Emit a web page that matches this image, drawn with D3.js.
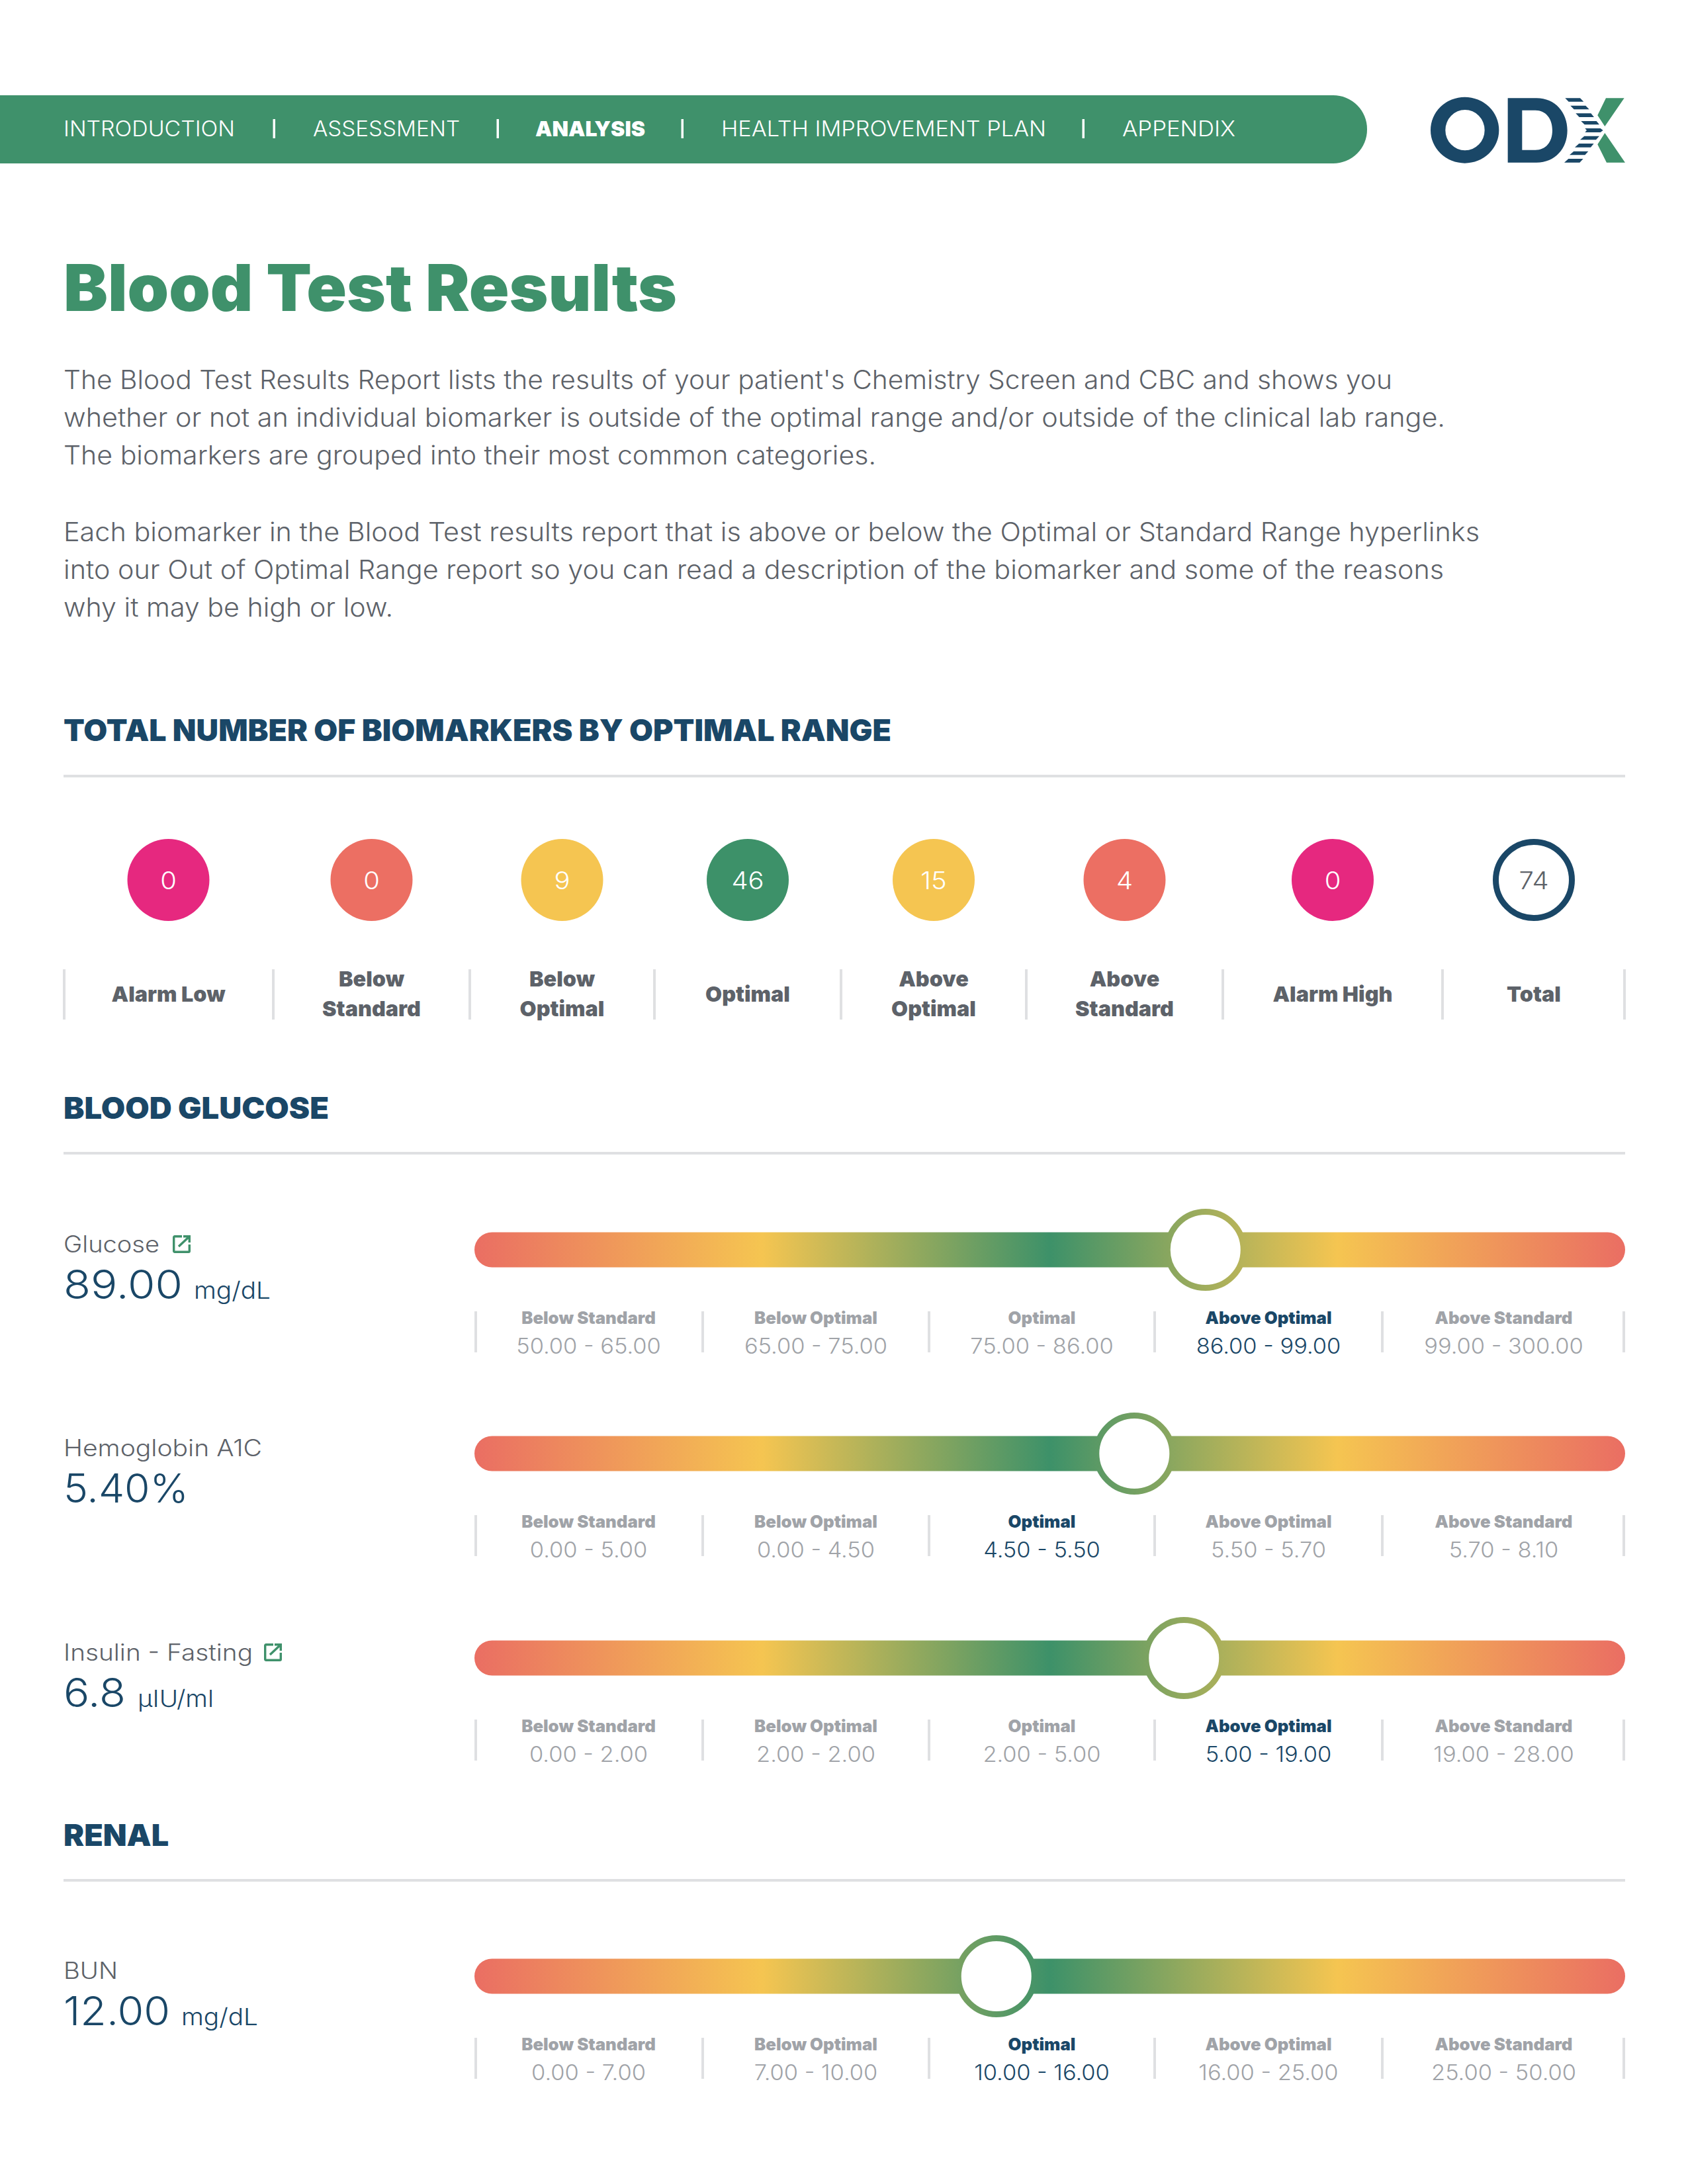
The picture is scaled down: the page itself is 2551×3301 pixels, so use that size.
<!DOCTYPE html>
<html><head><meta charset="utf-8">
<script src="https://cdn.jsdelivr.net/npm/d3@7/dist/d3.min.js"></script>
<style>html,body{margin:0;padding:0;background:#fff}svg{display:block}text{font-family:Inter,"Open Sans",sans-serif}</style>
</head><body><script>
// ---- data ----
const navItems = ["INTRODUCTION","ASSESSMENT","ANALYSIS","HEALTH IMPROVEMENT PLAN","APPENDIX"];
const navActive = "ANALYSIS";
const pageTitle = "Blood Test Results";
const introLines = [
 "The Blood Test Results Report lists the results of your patient's Chemistry Screen and CBC and shows you",
 "whether or not an individual biomarker is outside of the optimal range and/or outside of the clinical lab range.",
 "The biomarkers are grouped into their most common categories.",
 "Each biomarker in the Blood Test results report that is above or below the Optimal or Standard Range hyperlinks",
 "into our Out of Optimal Range report so you can read a description of the biomarker and some of the reasons",
 "why it may be high or low."];
const countTitle = "TOTAL NUMBER OF BIOMARKERS BY OPTIMAL RANGE";
const countCategories = ["Alarm Low","Below|Standard","Below|Optimal","Optimal","Above|Optimal","Above|Standard","Alarm High","Total"];
const countValues = [0,0,9,46,15,4,0,74];
const countColors = ["#e6287f","#ec6f63","#f5c551","#3d9169","#f5c551","#ec6f63","#e6287f","#ffffff"];
const bandNames = ["Below Standard","Below Optimal","Optimal","Above Optimal","Above Standard"];
const gradientStops = ["#ea6e63","#f5c551","#3d9169","#f5c551","#ea6e63"];
const glucoseRanges = [[50,65],[65,75],[75,86],[86,99],[99,300]];
const a1cRanges = [[0,5],[0,4.5],[4.5,5.5],[5.5,5.7],[5.7,8.1]];
const insulinRanges = [[0,2],[2,2],[2,5],[5,19],[19,28]];
const bunRanges = [[0,7],[7,10],[10,16],[16,25],[25,50]];
const sections = ["BLOOD GLUCOSE","RENAL"];
const markerNames = ["Glucose","Hemoglobin A1C","Insulin - Fasting","BUN"];
const markerValueText = ["89.00","5.40%","6.8","12.00"];
const markerUnits = ["mg/dL","","µIU/ml","mg/dL"];
const markerLinks = [true,false,true,false];
const markerReadings = [88.9,5.41,6.8,11.79];
const markerBands = [3,2,3,2];
const markerRanges = [glucoseRanges,a1cRanges,insulinRanges,bunRanges];

// ---- layout ----
const L=96,R=2456,NAVY="#1a4767",GREY="#5d6269",MUTED="#a0a3a8",RULE="#dfe0e2",GREEN="#3f916b";
const svg=d3.select("body").append("svg").attr("width",2551).attr("height",3301).attr("viewBox","0 0 2551 3301");
const defs=svg.append("defs");
const stopScale=d3.scaleLinear().domain([0,gradientStops.length-1]).range([0,100]);
const grad=defs.append("linearGradient").attr("id","g").attr("gradientUnits","userSpaceOnUse").attr("x1",717).attr("x2",R).attr("y1",0).attr("y2",0);
grad.selectAll("stop").data(gradientStops).join("stop").attr("offset",(d,i)=>stopScale(i)+"%").attr("stop-color",d=>d);

function T(g,s,x,y,size,weight,fill,anchor,w){
  const t=g.append("text").attr("x",x).attr("y",y).attr("font-size",size).attr("font-weight",weight).attr("fill",fill).attr("text-anchor",anchor||"start").text(s);
  if(w) t.attr("textLength",w).attr("lengthAdjust","spacingAndGlyphs");
  return t;
}
// stretched text: width = natural width * f, standing in for the wider original face
function W(g,s,x,y,size,weight,fill,anchor,f){
  const t=T(g,s,x,y,size,weight,fill,anchor);
  t.attr("textLength",t.node().getComputedTextLength()*f).attr("lengthAdjust","spacingAndGlyphs");
  return t;
}
// nav
svg.append("rect").attr("x",-60).attr("y",144).attr("width",2126).attr("height",103).attr("rx",51).attr("fill",GREEN);
const navX=[96,473,809,1090,1696], navW=[259,222,166,491,171], navSep=[414,752,1031,1637];
const nav=svg.append("g");
navItems.forEach((n,i)=>T(nav,n,navX[i],206,32,n===navActive?900:300,"#fff","start",navW[i]));
nav.selectAll("rect").data(navSep).join("rect").attr("x",d=>d-1.5).attr("y",180).attr("width",3.5).attr("height",29).attr("fill","#fff");
// logo
const logo=svg.append("g").attr("transform","translate(2152,135) scale(0.3333)");
logo.append("path").attr("fill-rule","evenodd").attr("fill",NAVY).attr("d","M30 185a155 150 0 1 0 310 0a155 150 0 1 0 -310 0zM97 185a89 92 0 1 1 178 0a89 92 0 1 1 -178 0z");
logo.append("path").attr("fill-rule","evenodd").attr("fill",NAVY).attr("d","M380 40H510C595 40 650 105 650 186C650 268 595 332 510 332H380zM445 95V275H505C552 275 582 240 582 186C582 132 552 95 505 95z");
logo.append("path").attr("fill",GREEN).attr("d","M825 40H908L820 168L787 118zM820 198L912 332H828L787 250z");
const stripes=["640,40 708,40 724,56 656,56","664,74 733,74 749,91 680,91","688,109 757,109 771,126 704,126","712,144 782,144 795,160 728,160","730,177 800,177 812,186 800,195 730,195 738,186","727,212 795,212 780,229 708,229","703,246 770,246 756,263 684,263","679,281 745,281 730,298 660,298","655,315 722,315 706,332 636,332"];
logo.selectAll("polygon").data(stripes).join("polygon").attr("points",d=>d).attr("fill",NAVY);
// title + intro
T(svg,pageTitle,L,470,98,900,GREEN,"start",927);
const introY=[588,645,702,818,875,932], introW=[2008,2088,1228,2140,2086,498];
introLines.forEach((s,i)=>T(svg,s,L,introY[i],39,300,GREY,"start",introW[i]));
// section heads
function head(s,y,w,ry){T(svg,s,L,y,45,900,NAVY,"start",w);svg.append("rect").attr("x",L).attr("y",ry).attr("width",R-L).attr("height",4).attr("fill",RULE);}
head(countTitle,1120,1251,1171);
head(sections[0],1691,401,1741);
head(sections[1],2790,159,2840);
// count strip
const colEdges=[96,413,710,989,1271,1551,1848,2180,2456];
const colCenter=d3.scaleOrdinal().domain(countCategories).range(d3.pairs(colEdges).map(p=>(p[0]+p[1])/2));
const strip=svg.append("g");
strip.selectAll("rect").data(colEdges).join("rect").attr("x",(d,i)=>i==0?d-1:i==colEdges.length-1?d-3:d-2).attr("y",1465).attr("width",4).attr("height",76).attr("fill",RULE);
countCategories.forEach((c,i)=>{
  const x=colCenter(c), total=c==="Total";
  strip.append("circle").attr("cx",x).attr("cy",1330).attr("r",total?57.5:62).attr("fill",countColors[i]).attr("stroke",total?NAVY:"none").attr("stroke-width",total?9:0);
  W(strip,countValues[i],x,1344,37,300,total?GREY:"#fff","middle",1.08);
  const ln=c.split("|");
  if(ln.length==1) W(strip,c,x,1514,32,900,GREY,"middle",1.01);
  else {W(strip,ln[0],x,1491,32,900,GREY,"middle",1.01);W(strip,ln[1],x,1536,32,900,GREY,"middle",1.01);}
});
// biomarker rows
const rowY=[1889,2197,2506,2987];
const gaugeEdges=[717,1062,1404,1745,2089,R];
const gaugeX=d3.scaleLinear().domain(d3.range(gaugeEdges.length)).range(gaugeEdges);
const nameW=[145,300,286,82], valueW=[180,189,94,161], unitX=[293,0,208,274], unitW=[116,0,115,116], iconX=[261,0,399,0];
markerNames.forEach((name,m)=>{
  const y=rowY[m], g=svg.append("g");
  T(g,name,L,y+4,35,300,GREY,"start",nameW[m]);
  if(markerLinks[m]){
    const ic=g.append("g").attr("transform",`translate(${iconX[m]},${y-22})`).attr("fill","none").attr("stroke",GREEN).attr("stroke-width",3.4);
    ic.append("path").attr("d","M14 1.7H3a1.3 1.3 0 0 0 -1.3 1.3V24a1.3 1.3 0 0 0 1.3 1.3H24a1.3 1.3 0 0 0 1.3 -1.3V14");
    ic.append("path").attr("d","M9 17L25 2M16 1.7H25.3V11");
  }
  T(g,markerValueText[m],L,y+74,60,300,NAVY,"start",valueW[m]);
  if(markerUnits[m]) T(g,markerUnits[m],unitX[m],y+74,36,300,NAVY,"start",unitW[m]);
  g.append("rect").attr("x",717).attr("y",y-26.5).attr("width",R-717).attr("height",53).attr("rx",26.5).attr("fill","url(#g)");
  g.selectAll("rect.tick").data(gaugeEdges).join("rect").attr("class","tick").attr("x",(d,i)=>i==0?d:i==gaugeEdges.length-1?d-4:d-2).attr("y",y+93).attr("width",4).attr("height",62).attr("fill",RULE);
  bandNames.forEach((b,i)=>{
    const cx=(gaugeX(i)+gaugeX(i+1))/2, on=i===markerBands[m];
    W(g,b,cx,y+112,25.5,900,on?NAVY:MUTED,"middle",1.01);
    const r=markerRanges[m][i];
    W(g,r[0].toFixed(2)+" - "+r[1].toFixed(2),cx,y+157,32,300,on?NAVY:MUTED,"middle",1.075);
  });
  const b=markerBands[m],r=markerRanges[m][b];
  const cx=gaugeX(b+(markerReadings[m]-r[0])/(r[1]-r[0]));
  g.append("circle").attr("cx",cx).attr("cy",y).attr("r",57.5).attr("fill","#fff").attr("stroke","url(#g)").attr("stroke-width",9);
});
</script></body></html>
